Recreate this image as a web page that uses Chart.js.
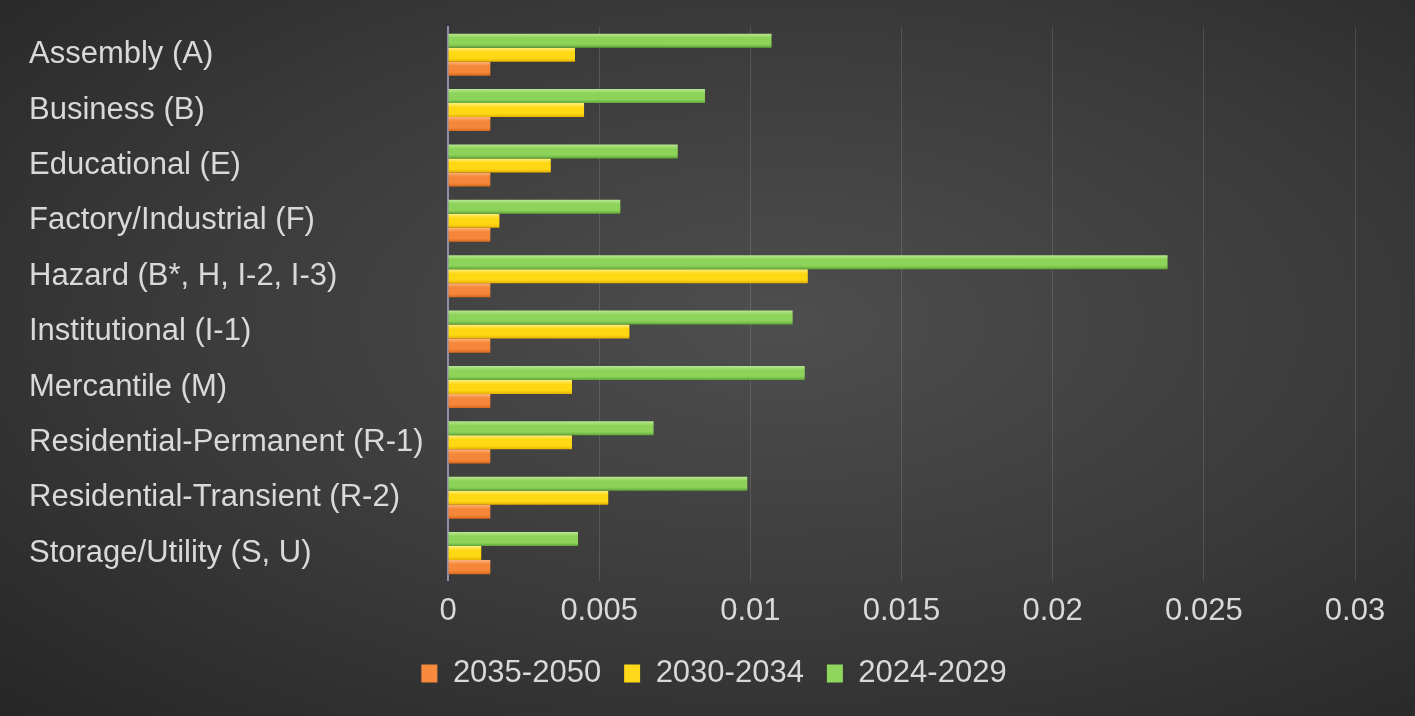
<!DOCTYPE html>
<html>
<head>
<meta charset="utf-8">
<script src="https://cdn.jsdelivr.net/npm/chart.js@4.4.1/dist/chart.umd.min.js"></script>
<style>
    html, body {
        margin: 0;
        padding: 0;
        background: #ffffff;
    }
    #wrap {
        position: relative;
        width: 1415px;
        height: 716px;
        background: radial-gradient(ellipse at 55% 45%, #4e4e4e 0%, #3a3a3a 55%, #262626 100%);
    }
</style>
</head>
<body>
<div id="wrap"><canvas id="chart" width="1415" height="716"></canvas></div>
<script>
const categories = [
    'Assembly (A)',
    'Business (B)',
    'Educational (E)',
    'Factory/Industrial (F)',
    'Hazard (B*, H, I-2, I-3)',
    'Institutional (I-1)',
    'Mercantile (M)',
    'Residential-Permanent (R-1)',
    'Residential-Transient (R-2)',
    'Storage/Utility (S, U)'
];

const values2024 = [0.0107, 0.0085, 0.0076, 0.0057, 0.0238, 0.0114, 0.0118, 0.0068, 0.0099, 0.0043];
const values2030 = [0.0042, 0.0045, 0.0034, 0.0017, 0.0119, 0.0060, 0.0041, 0.0041, 0.0053, 0.0011];
const values2035 = [0.0014, 0.0014, 0.0014, 0.0014, 0.0014, 0.0014, 0.0014, 0.0014, 0.0014, 0.0014];

const xTickLabels = ['0', '0.005', '0.01', '0.015', '0.02', '0.025', '0.03'];

const fontFamily = '"Liberation Sans", Arial, sans-serif';
const textColor = '#d9d9d9';
const legendColors = ['#8fd65c', '#ffd81a', '#f78a3c'];

// light stripe on top, darker at the bottom, like the office bar style
function barFill(top, mid, bottom) {
    return (context) => {
        const el = context.element;
        if (!el || el.y == null || !el.height) return mid;
        const g = context.chart.ctx.createLinearGradient(0, el.y - el.height / 2, 0, el.y + el.height / 2);
        g.addColorStop(0, top);
        g.addColorStop(0.3, mid);
        g.addColorStop(0.75, mid);
        g.addColorStop(1, bottom);
        return g;
    };
}

// nudge the legend a bit right and up to sit where the original one is
const legendNudge = {
    id: 'legendNudge',
    afterLayout(chart) {
        const lg = chart.legend;
        if (!lg) return;
        lg.left += 22;
        lg.right += 22;
        lg.top -= 7;
        lg.bottom -= 7;
    }
};

const ctx = document.getElementById('chart').getContext('2d');
const chart = new Chart(ctx, {
    type: 'bar',
    data: {
        labels: categories,
        datasets: [
            {
                label: '2024-2029',
                data: values2024,
                backgroundColor: barFill('#b9e891', '#8dd35a', '#5fa536'),
                borderWidth: 0,
            },
            {
                label: '2030-2034',
                data: values2030,
                backgroundColor: barFill('#fff080', '#ffd814', '#e6b000'),
                borderWidth: 0,
            },
            {
                label: '2035-2050',
                data: values2035,
                backgroundColor: barFill('#ffb27a', '#f5873a', '#d9691c'),
                borderWidth: 0,
            },
        ]
    },
    plugins: [legendNudge],
    options: {
        indexAxis: 'y',
        responsive: false,
        animation: false,
        datasets: {
            bar: {
                barPercentage: 1.0,
                categoryPercentage: 0.76,
            }
        },
        layout: {
            padding: { left: 29, right: 60, top: 27, bottom: 10 }
        },
        scales: {
            x: {
                min: 0,
                max: 0.03,
                ticks: {
                    stepSize: 0.005,
                    color: textColor,
                    padding: 12,
                    font: { family: fontFamily, size: 31 },
                    callback: (value, index) => xTickLabels[index],
                },
                grid: {
                    color: 'rgba(255, 255, 255, 0.13)',
                    lineWidth: 1,
                    drawTicks: false,
                },
                border: { display: false },
            },
            y: {
                ticks: {
                    color: textColor,
                    crossAlign: 'far',
                    padding: 8,
                    font: { family: fontFamily, size: 31 },
                },
                grid: { display: false, drawTicks: false },
                border: { display: true, color: '#8e8ea6', width: 2 },
                afterFit: (scale) => {
                    scale.width = 419; // plot starts right after the longest label
                },
            },
        },
        plugins: {
            legend: {
                position: 'bottom',
                reverse: true,
                labels: {
                    color: textColor,
                    boxWidth: 16,
                    boxHeight: 18,
                    padding: 23,
                    font: { family: fontFamily, size: 31 },
                    generateLabels: (chart) => {
                        const items = Chart.defaults.plugins.legend.labels.generateLabels(chart);
                        items.forEach((item) => {
                            item.fillStyle = legendColors[item.datasetIndex];
                            item.strokeStyle = legendColors[item.datasetIndex];
                            item.lineWidth = 0;
                        });
                        return items;
                    },
                },
            },
            tooltip: { enabled: false },
        },
    },
});

// second pass so the bar gradients know where each bar sits
chart.update('none');
</script>
</body>
</html>
